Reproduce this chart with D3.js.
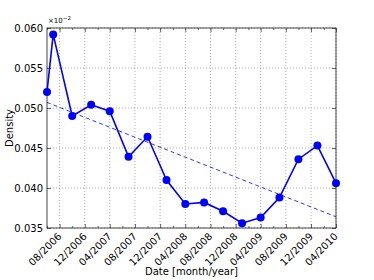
<!DOCTYPE html>
<html>
<head>
<meta charset="utf-8">
<script src="https://cdn.jsdelivr.net/npm/d3@7"></script>
<style>
body { margin: 0; background: #fff; }
text { font-family: "DejaVu Sans", sans-serif; }
</style>
</head>
<body>
<svg id="chart" width="374" height="280"></svg>
<script>
/* density over time, with a linear trend */

const months = ["06/2006", "07/2006", "10/2006", "01/2007", "04/2007", "07/2007", "10/2007",
	"01/2008", "04/2008", "07/2008", "10/2008", "01/2009", "04/2009", "07/2009",
	"10/2009", "01/2010", "04/2010"];
const density = [0.0520, 0.0592, 0.0490, 0.0504, 0.0496, 0.0439, 0.0464,
	0.0410, 0.0380, 0.0382, 0.0371, 0.0356, 0.0363, 0.0388,
	0.0436, 0.0453, 0.0406];
const trendMonths = ["06/2006", "04/2010"];
const trendValues = [0.0507, 0.0364];
const xTickLabels = ["08/2006", "12/2006", "04/2007", "08/2007", "12/2007", "04/2008",
	"08/2008", "12/2008", "04/2009", "08/2009", "12/2009", "04/2010"];
const yTicks = [0.035, 0.040, 0.045, 0.050, 0.055, 0.060];

const parse = d3.timeParse("%m/%Y");

const width = 374, height = 280;
const margin = {top: 28, right: 38, bottom: 52, left: 47};

let svg = d3.select("#chart");

x = d3.scaleTime()
	.domain([parse(months[0]), parse(months[months.length - 1])])
	.range([margin.left, width - margin.right]);

y = d3.scaleLinear()
	.domain([0.035, 0.060])
	.range([height - margin.bottom, margin.top]);

const xMajor = xTickLabels.map(parse);
const xMinor = d3.timeMonth.range(parse("06/2006"), parse("05/2010"), 2)
	.filter(d => !xMajor.some(m => +m === +d));

/*** grid */
let grid = svg.append("g")
	.attr("stroke", "#777")
	.attr("stroke-width", 0.6)
	.attr("stroke-dasharray", "1,2");
grid.selectAll(".gx").data(xMajor).join("line")
	.attr("x1", d => x(d)).attr("x2", d => x(d))
	.attr("y1", y.range()[0]).attr("y2", y.range()[1]);
grid.selectAll(".gy").data(yTicks).join("line")
	.attr("x1", x.range()[0]).attr("x2", x.range()[1])
	.attr("y1", d => y(d)).attr("y2", d => y(d));

/*** axes with inward ticks on all sides */
const tickStyle = g => g.call(g => g.select(".domain").remove())
	.call(g => g.selectAll(".tick line").attr("stroke", "#000").attr("stroke-width", 0.6));

svg.append("g")
	.attr("transform", `translate(0,${y.range()[0]})`)
	.call(d3.axisBottom(x).tickValues(xMajor).tickSize(-4).tickFormat(d3.timeFormat("%m/%Y")))
	.call(tickStyle)
	.call(g => g.selectAll(".tick text")
		.attr("font-size", "10px")
		.attr("fill", "#000")
		.attr("text-anchor", "end")
		.attr("dy", null)
		.attr("transform", "translate(0,7) rotate(-45)")
		.attr("y", 0).attr("x", 0)
		.attr("dominant-baseline", "middle"));

svg.append("g")
	.attr("transform", `translate(0,${y.range()[0]})`)
	.call(d3.axisBottom(x).tickValues(xMinor).tickSize(-2).tickFormat(""))
	.call(tickStyle);

svg.append("g")
	.attr("transform", `translate(0,${y.range()[1]})`)
	.call(d3.axisTop(x).tickValues(xMajor).tickSize(-4).tickFormat(""))
	.call(tickStyle);

svg.append("g")
	.attr("transform", `translate(0,${y.range()[1]})`)
	.call(d3.axisTop(x).tickValues(xMinor).tickSize(-2).tickFormat(""))
	.call(tickStyle);

svg.append("g")
	.attr("transform", `translate(${x.range()[0]},0)`)
	.call(d3.axisLeft(y).tickValues(yTicks).tickSize(-4).tickPadding(4).tickFormat(d3.format(".3f")))
	.call(tickStyle)
	.call(g => g.selectAll(".tick text").attr("font-size", "10px").attr("fill", "#000"));

svg.append("g")
	.attr("transform", `translate(${x.range()[1]},0)`)
	.call(d3.axisRight(y).tickValues(yTicks).tickSize(-4).tickFormat(""))
	.call(tickStyle);

/*** frame */
svg.append("rect")
	.attr("x", x.range()[0]).attr("y", y.range()[1])
	.attr("width", x.range()[1] - x.range()[0])
	.attr("height", y.range()[0] - y.range()[1])
	.attr("fill", "none").attr("stroke", "#333").attr("stroke-width", 0.9);

/*** trend line */
svg.append("path")
	.datum(trendMonths.map((m, i) => [parse(m), trendValues[i]]))
	.attr("fill", "none")
	.attr("stroke", "#0000ff")
	.attr("stroke-width", 0.8)
	.attr("stroke-dasharray", "4,3")
	.attr("d", d3.line().x(d => x(d[0])).y(d => y(d[1])));

/*** data line and markers */
const pts = months.map((m, i) => [parse(m), density[i]]);
svg.append("path")
	.datum(pts)
	.attr("fill", "none")
	.attr("stroke", "#0000ff")
	.attr("stroke-width", 1.6)
	.attr("d", d3.line().x(d => x(d[0])).y(d => y(d[1])));

svg.append("g")
	.attr("fill", "#0000ff")
	.selectAll("circle")
	.data(pts)
	.join("circle")
	.attr("cx", d => x(d[0]))
	.attr("cy", d => y(d[1]))
	.attr("r", 4);

/*** labels */
svg.append("text")
	.attr("x", x.range()[0] + 1)
	.attr("y", y.range()[1] - 5)
	.attr("font-size", "7px")
	.text("×10")
	.append("tspan")
	.attr("dy", "-3")
	.attr("font-size", "5.5px")
	.text("−2");

svg.append("text")
	.attr("transform", `translate(10,${(y.range()[0] + y.range()[1]) / 2}) rotate(-90)`)
	.attr("text-anchor", "middle")
	.attr("dominant-baseline", "middle")
	.attr("font-size", "10px")
	.text("Density");

svg.append("text")
	.attr("x", (x.range()[0] + x.range()[1]) / 2)
	.attr("y", 275)
	.attr("text-anchor", "middle")
	.attr("font-size", "10px")
	.text("Date [month/year]");
</script>
</body>
</html>
